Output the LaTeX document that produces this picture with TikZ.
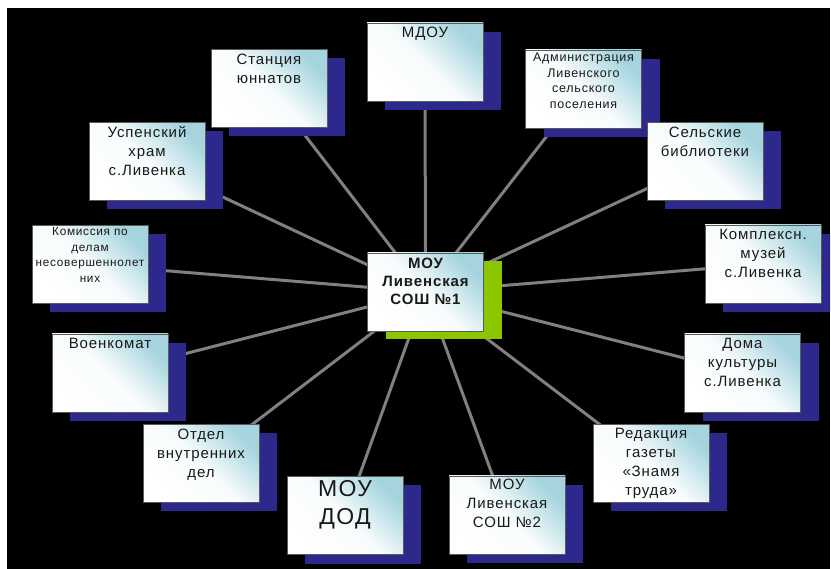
\documentclass[tikz,border=0pt]{standalone}
\usepackage{fontspec}
\setmainfont{Liberation Sans}[LetterSpace=6]
\usetikzlibrary{shadows}
\definecolor{shblue}{RGB}{44,40,140}
\definecolor{shgreen}{RGB}{140,198,0}
\definecolor{lnk}{RGB}{128,128,128}
\definecolor{tint}{RGB}{165,212,222}
\definecolor{txt}{RGB}{25,25,25}
\definecolor{bord}{RGB}{90,90,90}
\pgfdeclarelayer{bg}
\pgfsetlayers{bg,main}
\tikzset{
  boxbase/.style={draw=bord, line width=0.7pt, minimum width=116pt, minimum height=78pt,
    inner sep=0pt, outer sep=0pt, top color=tint, bottom color=white, middle color=white!92!tint, shading angle=-45},
  ubox/.style={boxbase, drop shadow={shadow xshift=18pt, shadow yshift=-9pt, fill=shblue, opacity=1}},
  cbox/.style={boxbase, drop shadow={shadow xshift=18pt, shadow yshift=-8pt, fill=shgreen, opacity=1}},
  link/.style={lnk, line width=3pt},
  lbl/.style={anchor=north, align=center, text=txt, inner sep=0pt, font=\fontsize{15}{19}\selectfont},
  small/.style={font=\fontsize{12.5}{15.5}\selectfont},
  smaller/.style={font=\fontsize{11.8}{15.5}\selectfont},
  big/.style={font=\fontsize{23}{28}\selectfont},
  boldc/.style={font=\fontsize{15}{18}\selectfont\bfseries}
}
\begin{document}
\begin{tikzpicture}[x=1pt,y=-1pt]
\useasboundingbox (0,0) rectangle (831,569);
\clip (0,0) rectangle (830,569);
% boxes
\node[cbox] (c) at (425.5,292) {};
\node[ubox] (mdou) at (425,62) {};
\node[ubox] (stan) at (269,88.5) {};
\node[ubox] (adm) at (583.5,89) {};
\node[ubox] (usp) at (147,161.5) {};
\node[ubox] (bibl) at (705,161.5) {};
\node[ubox] (kom) at (90,264.5) {};
\node[ubox] (muz) at (763,264) {};
\node[ubox] (voen) at (110,373) {};
\node[ubox] (doma) at (742.5,373) {};
\node[ubox] (otdel) at (201,463.5) {};
\node[ubox] (red) at (651,463.5) {};
\node[ubox] (dod) at (345,515.5) {};
\node[ubox] (sosh) at (507,515) {};
% texts
\node[lbl, boldc] (c-t) at ([yshift=-5pt]c.north) {МОУ\\Ливенская\\СОШ №1};
\node[lbl] (mdou-t) at ([yshift=-4pt]mdou.north) {МДОУ};
\node[lbl] (stan-t) at ([yshift=-4pt]stan.north) {Станция\\юннатов};
\node[lbl, small] (adm-t) at ([yshift=-3pt]adm.north) {Администрация\\Ливенского\\сельского\\поселения};
\node[lbl] (usp-t) at ([yshift=-4pt]usp.north) {Успенский\\храм\\с.Ливенка};
\node[lbl] (bibl-t) at ([yshift=-4pt]bibl.north) {Сельские\\библиотеки};
\node[lbl, smaller] (kom-t) at ([yshift=-2pt]kom.north) {Комиссия по\\делам\\несовершеннолет\\них};
\node[lbl] (muz-t) at ([yshift=-4pt]muz.north) {Комплексн.\\музей\\с.Ливенка};
\node[lbl] (voen-t) at ([yshift=-4pt]voen.north) {Военкомат};
\node[lbl] (doma-t) at ([yshift=-4pt]doma.north) {Дома\\культуры\\с.Ливенка};
\node[lbl] (otdel-t) at ([yshift=-4pt]otdel.north) {Отдел\\внутренних\\дел};
\node[lbl] (red-t) at ([yshift=-3pt]red.north) {Редакция\\газеты\\«Знамя\\труда»};
\node[lbl, big] (dod-t) at ([yshift=-4pt]dod.north) {МОУ\\ДОД};
\node[lbl] (sosh-t) at ([yshift=-3pt]sosh.north) {МОУ\\Ливенская\\СОШ №2};
% background and links
\begin{pgfonlayer}{bg}
\fill[black] (7,8) rectangle (830,569);
\foreach \n in {mdou,stan,adm,usp,bibl,kom,muz,voen,doma,otdel,red,dod,sosh}
  \draw[link] (c.center) -- (\n.center);
\end{pgfonlayer}
\end{tikzpicture}
\end{document}
